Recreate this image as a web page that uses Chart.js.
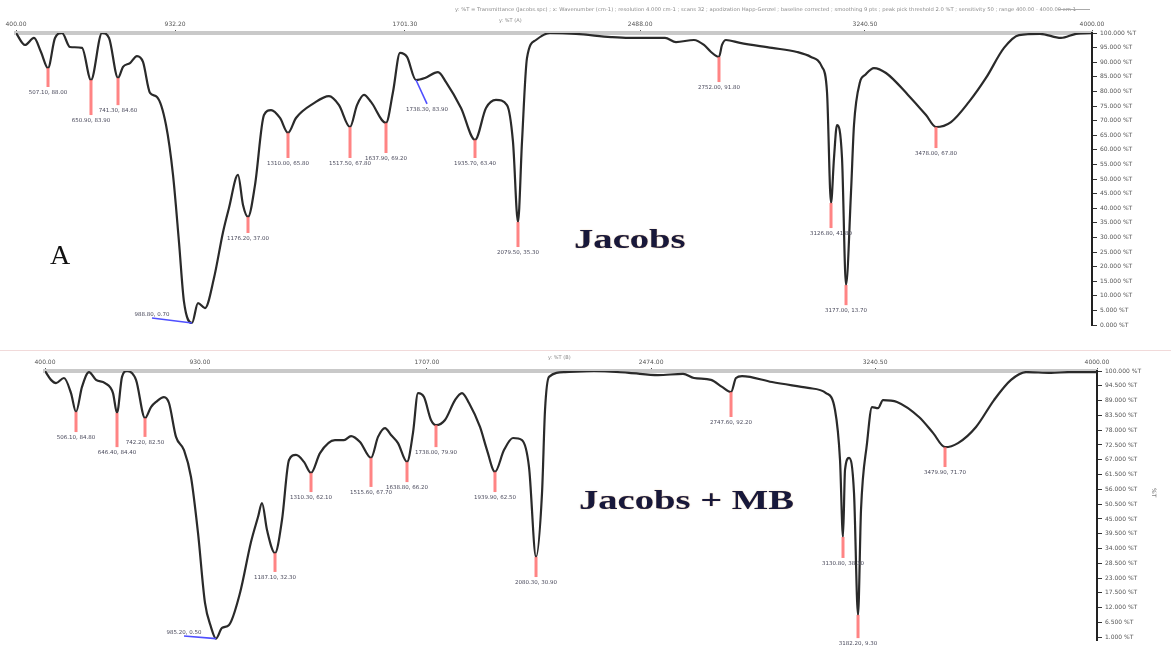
<!DOCTYPE html>
<html>
<head>
<meta charset="utf-8">
<script src="https://cdn.jsdelivr.net/npm/chart.js@4.4.1/dist/chart.umd.min.js"></script>
<style>
  html,body{margin:0;padding:0;background:#fff;}
  #wrap{position:relative;width:1171px;height:647px;overflow:hidden;background:#fff;}
  canvas{position:absolute;left:0;}
  .t{position:absolute;white-space:nowrap;transform-origin:0 0;line-height:1;}
  .tiny{position:absolute;white-space:nowrap;font:5px "DejaVu Sans";color:#8a8a8a;transform-origin:0 0;line-height:1;}
</style>
</head>
<body>
<div id="wrap">
  <canvas id="c1" width="1171" height="350" style="top:0"></canvas>
  <div style="position:absolute;left:0;top:350px;width:1171px;height:1px;background:#f1dada"></div>
  <canvas id="c2" width="1171" height="297" style="top:350px"></canvas>

  <div class="tiny" style="left:455px;top:7px;transform:scaleX(1.05)">y: %T = Transmittance (Jacobs.spc) ; x: Wavenumber (cm-1) ; resolution 4.000 cm-1 ; scans 32 ; apodization Happ-Genzel ; baseline corrected ; smoothing 9 pts ; peak pick threshold 2.0 %T ; sensitivity 50 ; range 400.00 - 4000.00 cm-1</div>
  <div style="position:absolute;left:1058px;top:9px;width:32px;height:1px;background:#aaa"></div>
  <div class="tiny" style="left:499px;top:18px;">y: %T (A)</div>
  <div class="tiny" style="left:548px;top:355px;">y: %T (B)</div>
  <div class="tiny" style="left:1157px;top:488px;transform:rotate(90deg);font-size:6px;color:#666">%T</div>

  <div class="t" style="left:50px;top:239px;font:28px 'Liberation Serif';color:#111">A</div>
  <div class="t" style="left:574px;top:223px;font:bold 28px 'Liberation Serif';color:#18183a;transform:scaleX(1.38);text-shadow:0 0 1px rgba(190,120,40,0.6)">Jacobs</div>
  <div class="t" style="left:579px;top:485px;font:bold 27px 'Liberation Serif';color:#18183a;transform:scaleX(1.43);text-shadow:0 0 1px rgba(190,120,40,0.6)">Jacobs + MB</div>
</div>
<script>
// ---------------- DATA ----------------
// Panel A (Jacobs): wavenumber (cm-1) and transmittance (%T)
const wnTop = [400,430.1,460.2,483.6,507.1,530.5,553.9,580.7,620.8,650.9,
  687.7,711.2,741.3,758.0,781.4,804.8,824.9,848.3,871.7,901.9,
  925.3,945.3,962.1,988.8,1008.9,1032.3,1062.4,1092.6,1112.6,1142.7,
  1159.5,1176.2,1199.6,1229.7,1253.2,1283.3,1310.0,1336.8,1397.0,1447.2,
  1480.7,1517.5,1540.9,1564.3,1587.7,1637.9,1661.3,1684.8,1708.2,1738.3,
  1768.4,1811.9,1838.7,1888.9,1935.7,1972.5,2005.9,2042.7,2062.8,2079.5,
  2092.9,2109.6,2139.7,2186.6,2273.6,2390.7,2450.9,2571.4,2608.2,2668.4,
  2701.8,2725.3,2752.0,2762.1,2775.4,2822.3,2929.3,3013.0,3059.8,3096.6,
  3113.4,3126.8,3136.8,3146.8,3163.6,3177.0,3193.7,3203.7,3223.8,3240.5,
  3270.6,3310.8,3384.4,3444.6,3478.0,3528.2,3588.4,3645.3,3705.6,3755.8,
  3826.0,3896.3,3946.4,4000];
const tTop = [100,95.9,98.3,93.5,88.0,98.3,100,95.2,94.9,83.9,
  100,98.3,84.6,88.4,89.7,92.1,90.1,79.5,78.1,68.5,
  51.4,28.4,7.9,0.7,7.5,5.8,16.1,31.8,40.1,51.4,
  41.1,37.0,47.9,71.9,73.6,70.9,65.8,70.9,76.0,78.4,
  75.3,67.8,75.3,78.8,76.4,69.2,79.8,93.2,91.8,83.9,
  84.6,86.6,83.2,74.3,63.4,74.3,77.1,75.3,62.7,35.3,
  62.7,91.4,97.6,100,99.7,98.6,98.3,98.3,96.9,97.6,
  95.9,93.5,91.8,95.9,97.6,96.6,94.9,93.5,91.8,88.4,
  79.8,41.8,57.2,68.5,57.2,13.7,45.5,68.5,83.2,85.6,
  88.0,86.3,78.8,71.9,67.8,69.5,76.4,84.6,94.9,99.3,
  99.7,98.3,99.7,100];

// Panel B (Jacobs + MB)
const wnBot = [400,420.5,437.6,465.0,489.0,506.1,526.6,550.6,574.5,605.3,
  632.7,646.4,663.5,680.6,711.4,742.2,762.7,779.9,807.2,824.3,
  848.3,875.7,899.6,923.6,947.5,968.1,985.2,1005.7,1029.7,1067.3,
  1104.9,1128.9,1142.6,1159.7,1187.1,1211.0,1235.0,1258.9,1286.3,1310.3,
  1341.1,1392.4,1423.2,1447.2,1478.0,1515.6,1539.6,1563.5,1584.1,1608.0,
  1638.8,1659.3,1676.4,1697.0,1720.9,1738.0,1768.8,1803.1,1827.0,1851.0,
  1888.6,1912.6,1939.9,1970.7,2001.5,2032.3,2056.3,2080.3,2100.8,2111.1,
  2124.7,2179.5,2278.7,2398.5,2497.7,2583.3,2620.9,2679.1,2716.8,2747.6,
  2764.7,2785.2,2887.9,3011.1,3072.7,3103.5,3120.6,3130.8,3137.7,3151.4,
  3168.5,3182.2,3192.4,3213.0,3230.1,3250.6,3267.7,3315.6,3390.9,3438.8,
  3479.9,3524.4,3586.0,3647.6,3705.8,3757.1,3842.6,3904.2,4000];
const tBot = [100,96.7,95.5,97.4,91.8,84.8,94.1,99.6,96.7,95.5,
  91.8,84.4,97.8,100,96.7,82.5,86.6,88.5,90.3,88.1,
  75.5,70.6,60.6,39.8,13.8,4.8,0.5,4.5,5.6,17.5,
  36.4,45.7,50.9,40.9,32.3,44.6,66.9,68.8,66.2,62.1,
  69.5,74.3,74.3,75.8,73.6,67.7,75.5,78.8,76.2,73.2,
  66.2,77.0,91.8,90.3,81.8,79.9,81.8,89.2,91.8,88.1,
  79.2,70.6,62.5,70.6,75.1,74.3,64.3,30.9,54.6,85.5,
  97.8,99.6,100,99.3,98.5,98.9,97.4,96.7,94.1,92.2,
  97.4,98.1,95.9,93.7,91.8,85.5,66.9,38.3,63.2,67.7,
  54.6,9.3,48.3,73.2,86.6,86.2,89.2,88.5,82.9,77.0,
  71.7,73.2,79.2,89.2,96.7,99.6,99.3,99.6,99.6];

// Picked peaks (position, %T at peak, end of marker / label anchor)
const peakWnTop    = [507.1,650.9,741.3,988.8,1176.2,1310.0,1517.5,1637.9,1738.3,1935.7,2079.5,2752.0,3126.8,3177.0,3478.0];
const peakTTop     = [88.0,83.9,84.6,0.7,37.0,65.8,67.8,69.2,83.9,63.4,35.3,91.8,41.8,13.7,67.8];
const peakLabWnTop = [507.1,650.9,741.3,855.0,1176.2,1310.0,1517.5,1637.9,1775.1,1935.7,2079.5,2752.0,3126.8,3177.0,3478.0];
const peakLabTTop  = [81.5,71.9,75.3,2.4,31.5,57.2,57.2,58.9,75.7,57.2,26.7,83.2,33.2,6.8,60.6];

const peakWnBot    = [506.1,646.4,742.2,985.2,1187.1,1310.3,1515.6,1638.8,1738.0,1939.9,2080.3,2747.6,3130.8,3182.2,3479.9];
const peakTBot     = [84.8,84.4,82.5,0.5,32.3,62.1,67.7,66.2,79.9,62.5,30.9,92.2,38.3,9.3,71.7];
const peakLabWnBot = [506.1,646.4,742.2,875.7,1187.1,1310.3,1515.6,1638.8,1738.0,1939.9,2080.3,2747.6,3130.8,3182.2,3479.9];
const peakLabTBot  = [77.3,71.7,75.5,1.5,25.3,55.0,56.9,58.7,71.7,55.0,23.4,82.9,30.5,0.7,64.3];

// Axis ticks
const xTicksTop = [400,932.2,1701.3,2488.0,3240.5,4000];
const xTicksBot = [400,930.0,1707.0,2474.0,3240.5,4000];
const yTicksTop = [100,95,90,85,80,75,70,65,60,55,50,45,40,35,30,25,20,15,10,5,0];
const yTicksBot = [100,94.5,89,83.5,78,72.5,67,61.5,56,50.5,45,39.5,34,28.5,23,17.5,12,6.5,1];

// ---------------- STYLE ----------------
const leaderTop = [3,8];     // peaks marked with a blue leader line
const leaderBot = [3];
const aboveTop = [3];        // labels placed above the leader end
const aboveBot = [3];

const peakPlugin = {
  id: 'peakMarks',
  afterDatasetsDraw(chart, args, o) {
    const ctx = chart.ctx, xs = chart.scales.x, ys = chart.scales.y;
    ctx.save();
    o.wn.forEach((w, i) => {
      const px = xs.getPixelForValue(w), py = ys.getPixelForValue(o.t[i]);
      const lx = xs.getPixelForValue(o.lwn[i]), ly = ys.getPixelForValue(o.lt[i]);
      const blue = o.leader.includes(i);
      ctx.strokeStyle = blue ? '#4f4fff' : 'rgba(255,110,110,0.85)';
      ctx.lineWidth = blue ? 1.6 : 3;
      ctx.beginPath(); ctx.moveTo(px, py); ctx.lineTo(lx, ly); ctx.stroke();
      ctx.fillStyle = '#4a4a5c';
      ctx.font = '5.5px "DejaVu Sans"';
      ctx.textAlign = 'center';
      const above = o.above.includes(i);
      ctx.textBaseline = above ? 'bottom' : 'top';
      ctx.fillText(w.toFixed(2) + ', ' + o.t[i].toFixed(2), lx, above ? ly - 1 : ly + 3);
    });
    ctx.restore();
  }
};

function makeChart(id, wn, t, xTicks, yTicks, peaks, lay) {
  return new Chart(document.getElementById(id), {
    type: 'line',
    data: { datasets: [{
      data: wn.map((w, i) => ({ x: w, y: t[i] })),
      borderColor: '#2a2a2a', borderWidth: 2.2, pointRadius: 0,
      cubicInterpolationMode: 'monotone', fill: false
    }]},
    options: {
      responsive: false, animation: false, devicePixelRatio: 1,
      layout: { padding: { left: lay.left, right: 0, top: 0, bottom: lay.bottom } },
      plugins: { legend: { display: false }, tooltip: { enabled: false }, peakMarks: peaks },
      scales: {
        x: {
          type: 'linear', position: 'top', min: 400, max: 4000,
          afterBuildTicks: s => { s.ticks = xTicks.map(v => ({ value: v })); },
          afterFit: s => { s.height = lay.xh; },
          ticks: { autoSkip: false, maxRotation: 0, font: { size: 6, family: 'DejaVu Sans' }, color: '#555', padding: 2,
                   callback: v => Number(v).toFixed(2) },
          grid: { drawOnChartArea: false, tickLength: 3, color: '#555' },
          border: { color: '#c9c9c9', width: 4 }
        },
        y: {
          type: 'linear', position: 'right', min: 0, max: 100,
          afterBuildTicks: s => { s.ticks = yTicks.map(v => ({ value: v })); },
          afterFit: s => { s.width = lay.yw; },
          ticks: { autoSkip: false, font: { size: 6, family: 'DejaVu Sans' }, color: '#555', padding: 3,
                   callback: v => Number(v).toFixed(3) + ' %T' },
          grid: { drawOnChartArea: false, tickLength: 5, color: '#333' },
          border: { color: '#222', width: 2 }
        }
      }
    },
    plugins: [peakPlugin]
  });
}

makeChart('c1', wnTop, tTop, xTicksTop, yTicksTop,
  { wn: peakWnTop, t: peakTTop, lwn: peakLabWnTop, lt: peakLabTTop, leader: leaderTop, above: aboveTop },
  { left: 16, bottom: 25, xh: 33, yw: 79 });
makeChart('c2', wnBot, tBot, xTicksBot, yTicksBot,
  { wn: peakWnBot, t: peakTBot, lwn: peakLabWnBot, lt: peakLabTBot, leader: leaderBot, above: aboveBot },
  { left: 45, bottom: 7, xh: 21, yw: 74 });
</script>
</body>
</html>
